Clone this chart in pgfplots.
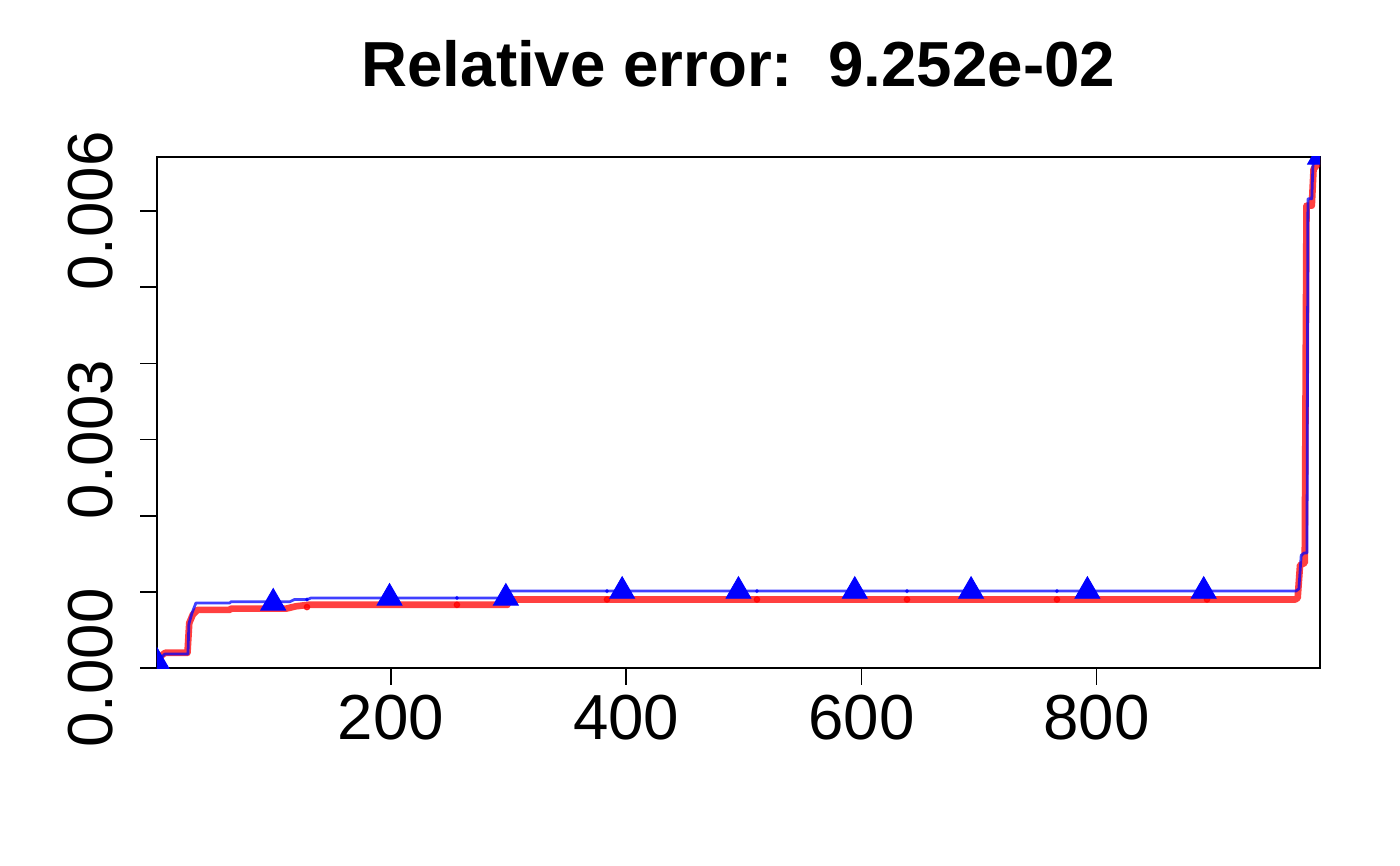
\documentclass[border=0pt]{standalone}
\usepackage{fontspec}
\setmainfont{Liberation Sans}
\usepackage{pgfplots}
\pgfplotsset{compat=1.18}
\begin{document}
\begin{tikzpicture}
\begin{axis}[
  scale only axis, width=420.3pt, height=184.7pt,
  xmin=1, xmax=990, ymin=0, ymax=0.00671,
  axis line style={line width=0.6pt},
  every tick/.style={line width=0.6pt, black},
  tick align=outside, major tick length=6.1pt,
  xtick pos=bottom, ytick pos=left,
  xtick={200,400,600,800}, xticklabels={200,400,600,800},
  ytick={0,0.001,0.002,0.003,0.004,0.005,0.006},
  yticklabels={0.000,,,0.003,,,0.006},
  scaled y ticks=false, scaled x ticks=false,
  xticklabel style={anchor=base, yshift=-19.9pt, font=\fontsize{23}{23}\selectfont, inner sep=0pt},
  yticklabel style={xshift=-9.8pt, rotate=90, anchor=base, font=\fontsize{23}{23}\selectfont, inner sep=0pt},
  title={Relative error:\ \ 9.252e-02},
  title style={at={(0.5,1)}, anchor=base, yshift=19.5pt, inner sep=0pt, font=\bfseries\fontsize{23}{23}\selectfont},
  clip=true, clip marker paths=true,
]
% red curve
\addplot[color=red, opacity=0.75, line width=2.4pt, line join=round, line cap=round] coordinates {
(1,0.00012) (8,0.0002) (27,0.0002) (28.5,0.00059) (31.5,0.0007) (35.5,0.000763)
(63,0.000763) (64,0.00078) (111,0.00078) (119,0.00081) (130,0.00083)
(299,0.00083) (300.5,0.0009) (969,0.0009) (971,0.00092) (973,0.00135)
(977,0.00138) (978.5,0.00607) (983,0.00607) (984.5,0.00655) (990,0.00665)
};
% blue curve
\addplot[color=blue, opacity=0.75, line width=1.0pt, line join=round, line cap=round] coordinates {
(1,0.00008) (7.8,0.000184) (27.4,0.000184) (28.2,0.00058) (30.8,0.00072) (34.2,0.000855)
(63,0.000855) (64,0.00087) (114,0.00087) (118,0.0009) (129,0.0009) (132,0.00092)
(298,0.00092) (299.5,0.00101) (969.6,0.00101) (972,0.00104) (974,0.00148)
(976.5,0.00151) (978.9,0.00151) (979.7,0.00616) (983,0.00616) (984,0.00662)
(988,0.00665) (990,0.00671)
};
% small dots
\addplot[only marks, mark=*, mark size=1.0pt, color=red, opacity=0.75, mark options={draw=none}] coordinates {
(128.6,0.0008) (256.1,0.00083) (383.7,0.0009) (511.2,0.0009) (638.8,0.0009) (766.3,0.0009) (893.9,0.0009)
};
\addplot[only marks, mark=*, mark size=0.5pt, color=blue, opacity=0.75, mark options={draw=none}] coordinates {
(128.6,0.0009) (256.1,0.00092) (383.7,0.00101) (511.2,0.00101) (638.8,0.00101) (766.3,0.00101) (893.9,0.00101)
};
% triangles
\addplot[only marks, mark=triangle*, mark size=5.2pt, color=blue, mark options={fill=blue, draw=blue, line width=0.3pt}] coordinates {
(1,0.00008) (99.9,0.000855) (198.8,0.00092) (297.7,0.00092) (396.6,0.00101) (495.5,0.00101)
(594.4,0.00101) (693.3,0.00101) (792.2,0.00101) (891.1,0.00101) (990,0.00671)
};
\end{axis}
\path ([xshift=-56.7pt,yshift=-71.2pt]current axis.south west) rectangle ([xshift=28.9pt,yshift=56.7pt]current axis.north east);
\end{tikzpicture}
\end{document}
